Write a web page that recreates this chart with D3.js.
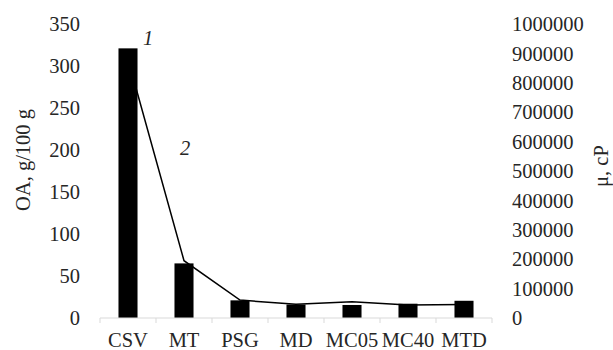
<!DOCTYPE html>
<meta charset="utf-8">
<html>
<style>
body { margin: 0; background: #fff; }
text { font-family: "Liberation Serif", "Times New Roman", serif; fill: #262626; }
</style>
<svg width="613" height="350"></svg>
<script src="https://d3js.org/d3.v7.min.js"></script>
<script>
var categories = ["CSV", "MT", "PSG", "MD", "MC05", "MC40", "MTD"];
var oaValues = [321, 65, 21, 16, 15.5, 17, 20.5];
var viscValues = [880000, 195000, 61000, 46500, 55000, 44000, 46000];
var leftTicks = [0, 50, 100, 150, 200, 250, 300, 350];
var rightTicks = [0, 100000, 200000, 300000, 400000, 500000, 600000, 700000, 800000, 900000, 1000000];

var svg = d3.select("svg");
var plotL = 100, plotR = 492, plotT = 24, plotB = 318;
var fs = "20.5px";

var x = d3.scaleBand().domain(categories).range([plotL, plotR]);
var yL = d3.scaleLinear().domain([0, 350]).range([plotB, plotT]);
var yR = d3.scaleLinear().domain([0, 1000000]).range([plotB, plotT]);

// bars (OA)
var bw = x.bandwidth() * 0.34;
svg.append("g").selectAll("rect")
  .data(oaValues)
  .enter().append("rect")
    .attr("x", function(d, i) { return x(categories[i]) + x.bandwidth() / 2 - bw / 2; })
    .attr("y", function(d) { return yL(d); })
    .attr("width", bw)
    .attr("height", function(d) { return plotB - yL(d); })
    .attr("fill", "#000");

// x axis
var xAxis = svg.append("g")
  .attr("transform", "translate(0," + plotB + ")");
xAxis.append("line")
  .attr("x1", plotL).attr("x2", plotR)
  .attr("stroke", "#d9d9d9").attr("stroke-width", 1);
xAxis.selectAll("line.tk")
  .data(d3.range(categories.length + 1))
  .enter().append("line")
    .attr("class", "tk")
    .attr("x1", function(i) { return plotL + i * x.bandwidth(); })
    .attr("x2", function(i) { return plotL + i * x.bandwidth(); })
    .attr("y1", 0).attr("y2", 5)
    .attr("stroke", "#d9d9d9");
xAxis.selectAll("text")
  .data(categories)
  .enter().append("text")
    .attr("x", function(d) { return x(d) + x.bandwidth() / 2; })
    .attr("y", 29)
    .attr("text-anchor", "middle")
    .style("font-size", fs)
    .text(function(d) { return d; });

// viscosity line
var line = d3.line()
  .x(function(d, i) { return x(categories[i]) + x.bandwidth() / 2; })
  .y(function(d) { return yR(d); });
svg.append("path")
  .datum(viscValues)
  .attr("d", line)
  .attr("fill", "none")
  .attr("stroke", "#000")
  .attr("stroke-width", 1.5);

// left axis labels
svg.append("g").selectAll("text")
  .data(leftTicks)
  .enter().append("text")
    .attr("x", 80)
    .attr("y", function(d) { return yL(d); })
    .attr("dy", "0.35em")
    .attr("text-anchor", "end")
    .style("font-size", fs)
    .text(function(d) { return d; });

// right axis labels
svg.append("g").selectAll("text")
  .data(rightTicks)
  .enter().append("text")
    .attr("x", 512)
    .attr("y", function(d) { return yR(d); })
    .attr("dy", "0.35em")
    .attr("text-anchor", "start")
    .style("font-size", fs)
    .text(function(d) { return d; });

// axis titles
svg.append("text")
  .attr("transform", "translate(30,160) rotate(-90)")
  .attr("text-anchor", "middle")
  .style("font-size", fs)
  .text("OA, g/100 g");
svg.append("text")
  .attr("transform", "translate(608,166) rotate(-90)")
  .attr("text-anchor", "middle")
  .style("font-size", fs)
  .text("μ, cP");

// series markers
svg.append("text")
  .attr("x", 143).attr("y", 45)
  .style("font-size", fs).style("font-style", "italic")
  .text("1");
svg.append("text")
  .attr("x", 180).attr("y", 155)
  .style("font-size", fs).style("font-style", "italic")
  .text("2");
</script>
</html>
